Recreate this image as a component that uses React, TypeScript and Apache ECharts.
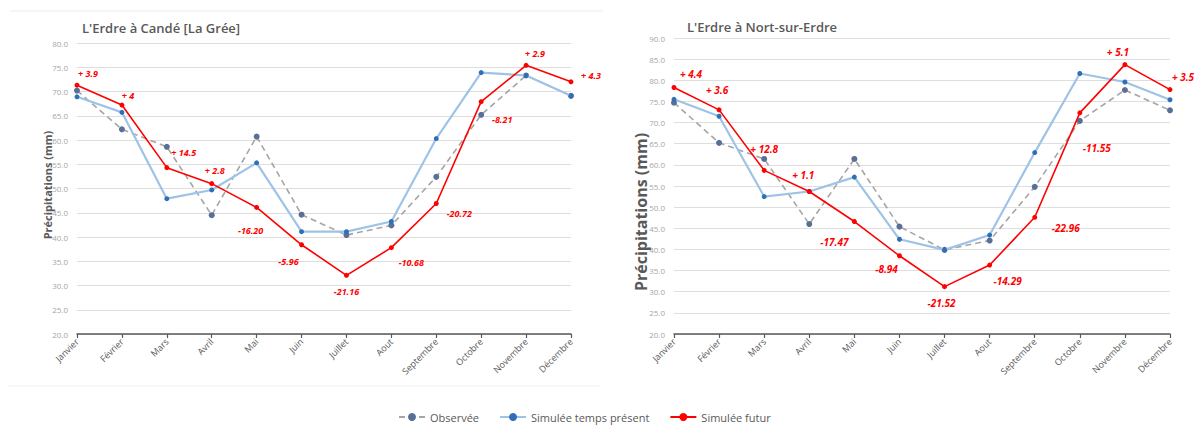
import React, { useEffect, useRef } from "react";
import * as echarts from "echarts";

const months = ["Janvier", "Février", "Mars", "Avril", "Mai", "Juin", "Juillet", "Aout", "Septembre", "Octobre", "Novembre", "Décembre"];
const seriesNames = ["Observée", "Simulée temps présent", "Simulée futur"];

const leftTitle = "L'Erdre à Candé [La Grée]";
const leftObs = [70.2, 62.2, 58.6, 44.5, 60.7, 44.6, 40.4, 42.4, 52.4, 65.2, 73.3, 69.1];
const leftPres = [68.9, 65.7, 47.9, 49.7, 55.3, 41.1, 41.1, 43.2, 60.3, 73.9, 73.3, 69.1];
const leftFut = [71.3, 67.2, 54.3, 51.0, 46.1, 38.4, 32.1, 37.8, 46.9, 67.9, 75.4, 72.0];
const leftDiff = ["+ 3.9", "+ 4", "+ 14.5", "+ 2.8", "-16.20", "-5.96", "-21.16", "-10.68", "-20.72", "-8.21", "+ 2.9", "+ 4.3"];

const rightTitle = "L'Erdre à Nort-sur-Erdre";
const rightObs = [74.7, 65.2, 61.4, 46.0, 61.4, 45.4, 39.9, 42.1, 54.8, 70.4, 77.7, 72.9];
const rightPres = [75.5, 71.5, 52.5, 53.7, 57.1, 42.4, 39.9, 43.4, 62.9, 81.6, 79.6, 75.4];
const rightFut = [78.3, 73.0, 58.7, 53.7, 46.6, 38.5, 31.2, 36.3, 47.6, 72.3, 83.7, 77.8];
const rightDiff = ["+ 4.4", "+ 3.6", "+ 12.8", "+ 1.1", "-17.47", "-8.94", "-21.52", "-14.29", "-22.96", "-11.55", "+ 5.1", "+ 3.5"];

const yAxisName = "Précipitations (mm)";

// label placement (styling, relative to each point)
const leftLabelOffsets = [[11, -12], [6, -10], [17, -15], [3, -13], [-6, 23], [-13, 17], [0, 16], [20, 15], [23, 10], [21, 18], [9, -12], [20, -6]];
const rightLabelOffsets = [[17, -13], [-2, -20], [0, -21], [-6, -16], [-20, 20], [-13, 13], [-3, 16], [18, 16], [31, 11], [17, 35], [-7, -13], [13, -13]];

const FONT = "'Open Sans', 'DejaVu Sans', sans-serif";
const C_OBS_LINE = "#a5a5a5";
const C_OBS_DOT = "#5a6f97";
const C_PRES_LINE = "#9dc3e6";
const C_PRES_DOT = "#2e6fb5";
const C_FUT = "#ff0000";

function buildSeries(idx: number, obs: number[], pres: number[], fut: number[], diffs: string[], offs: number[][], fs: number) {
  return [
    {
      name: seriesNames[0], type: "line", xAxisIndex: idx, yAxisIndex: idx, data: obs,
      symbol: "circle", symbolSize: 6,
      lineStyle: { color: C_OBS_LINE, width: 1.6, type: [6, 4] },
      itemStyle: { color: C_OBS_DOT },
      z: 2,
    },
    {
      name: seriesNames[1], type: "line", xAxisIndex: idx, yAxisIndex: idx, data: pres,
      symbol: "circle", symbolSize: 5,
      lineStyle: { color: C_PRES_LINE, width: 2.2 },
      itemStyle: { color: C_PRES_DOT },
      z: 3,
    },
    {
      name: seriesNames[2], type: "line", xAxisIndex: idx, yAxisIndex: idx,
      data: fut.map((v, i) => ({
        value: v,
        label: {
          show: true, position: "inside", offset: offs[i], formatter: diffs[i],
          color: C_FUT, fontSize: fs, fontWeight: "bold", fontStyle: "italic", fontFamily: FONT,
          textBorderWidth: 0,
        },
      })),
      symbol: "circle", symbolSize: 5,
      lineStyle: { color: C_FUT, width: 1.6 },
      itemStyle: { color: C_FUT },
      z: 4,
    },
  ];
}

function xAxisCfg(idx: number) {
  return {
    type: "category", gridIndex: idx, data: months, boundaryGap: false,
    axisLine: { lineStyle: { color: "#595959", width: 1.5 } },
    axisTick: { show: true, length: 4, lineStyle: { color: "#595959", width: 1.2 } },
    axisLabel: { rotate: 45, fontSize: 9, color: "#595959", fontFamily: FONT, margin: 6, interval: 0 },
    splitLine: { show: false },
  };
}

function yAxisCfg(idx: number, max: number) {
  return {
    type: "value", gridIndex: idx, min: 20, max, interval: 5,
    axisLine: { show: false }, axisTick: { show: false },
    axisLabel: { fontSize: 8, color: "#a6a6a6", fontFamily: FONT, margin: 9, formatter: (v: number) => v.toFixed(1) },
    splitLine: { lineStyle: { color: "#dedede", width: 1.2 } },
  };
}

export default function App() {
  const ref = useRef<HTMLDivElement>(null);
  useEffect(() => {
    document.body.style.margin = "0";
    if (!ref.current) return;
    const chart = echarts.init(ref.current, null, { renderer: "svg" });
    chart.setOption({
      animation: false,
      backgroundColor: "#ffffff",
      title: [
        { text: leftTitle, left: 77, top: 16, textStyle: { fontFamily: FONT, fontSize: 13, fontWeight: 600, color: "#595959" } },
        { text: rightTitle, left: 682, top: 15, textStyle: { fontFamily: FONT, fontSize: 13, fontWeight: 600, color: "#595959" } },
      ],
      legend: {
        data: seriesNames, left: 398, top: 410, itemWidth: 26, itemHeight: 10, itemGap: 20,
        padding: 0,
        textStyle: { fontFamily: FONT, fontSize: 11, color: "#595959", lineHeight: 14 },
      },
      grid: [
        { left: 77, right: 625, top: 43, bottom: 91 },
        { left: 674, right: 26, top: 38, bottom: 91 },
      ],
      xAxis: [xAxisCfg(0), xAxisCfg(1)],
      yAxis: [yAxisCfg(0, 80), yAxisCfg(1, 90)],
      series: [
        ...buildSeries(0, leftObs, leftPres, leftFut, leftDiff, leftLabelOffsets, 9),
        ...buildSeries(1, rightObs, rightPres, rightFut, rightDiff, rightLabelOffsets, 10),
      ],
      graphic: [
        { type: "line", shape: { x1: 10, y1: 11, x2: 603, y2: 11 }, style: { stroke: "#ececec", lineWidth: 1 } },
        { type: "line", shape: { x1: 8, y1: 386, x2: 600, y2: 386 }, style: { stroke: "#f0f0f0", lineWidth: 1 } },
        {
          type: "text", x: 47, y: 185, rotation: Math.PI / 2,
          style: { text: yAxisName, fontFamily: FONT, fontSize: 11, fontWeight: "bold", fill: "#595959", textAlign: "center", textVerticalAlign: "middle" },
        },
        {
          type: "text", x: 641, y: 212, rotation: Math.PI / 2,
          style: { text: yAxisName, fontFamily: FONT, fontSize: 16, fontWeight: "bold", fill: "#595959", textAlign: "center", textVerticalAlign: "middle" },
        },
      ],
    });
    return () => chart.dispose();
  }, []);
  return <div ref={ref} style={{ width: 1196, height: 425 }} />;
}
